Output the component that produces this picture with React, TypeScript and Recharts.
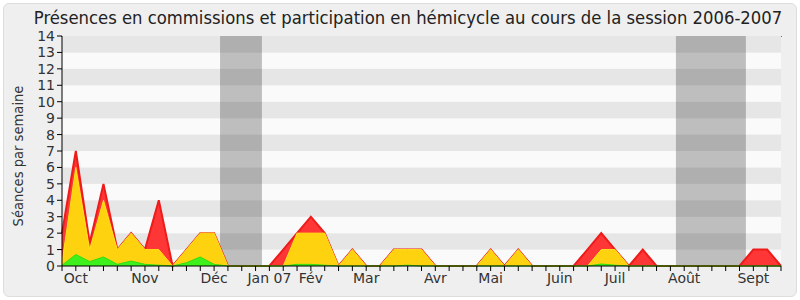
import React from 'react';
import { AreaChart, Area, XAxis, YAxis, CartesianGrid, ReferenceArea } from 'recharts';

const title = 'Présences en commissions et participation en hémicycle au cours de la session 2006-2007';
const yLabel = 'Séances par semaine';

// weekly values (index 0..52)
const totalSeries = [2, 7, 1.4, 5, 1, 2, 1, 4, 0, 1, 2, 2, 0, 0, 0, 0, 1, 2, 3, 2, 0, 1, 0, 0, 1, 1, 1, 0, 0, 0, 0, 1, 0, 1, 0, 0, 0, 0, 1, 2, 1, 0, 1, 0, 0, 0, 0, 0, 0, 0, 1, 1, 0];
const commissionSeries = [0.2, 6, 1, 4, 1, 2, 1, 1, 0, 1, 2, 2, 0, 0, 0, 0, 0, 2, 2, 2, 0, 1, 0, 0, 1, 1, 1, 0, 0, 0, 0, 1, 0, 1, 0, 0, 0, 0, 0, 1, 1, 0, 0, 0, 0, 0, 0, 0, 0, 0, 0, 0, 0];
const hemicycleSeries = [0.05, 0.7, 0.27, 0.55, 0.1, 0.3, 0.1, 0.05, 0, 0.2, 0.55, 0.1, 0, 0, 0, 0, 0, 0.1, 0.1, 0.05, 0, 0, 0, 0, 0, 0.05, 0, 0, 0, 0, 0, 0, 0, 0, 0, 0, 0, 0, 0, 0.12, 0.05, 0, 0, 0, 0, 0, 0, 0, 0, 0, 0, 0, 0];

const monthWeeks = [1, 6, 11, 15, 18, 22, 27, 31, 36, 40, 45, 50];
const monthNames = ['Oct', 'Nov', 'Déc', 'Jan 07', 'Fév', 'Mar', 'Avr', 'Mai', 'Juin', 'Juil', 'Août', 'Sept'];

const vacationStart = [11.43, 44.4];
const vacationEnd = [14.46, 49.46];

const yTicks = [0, 1, 2, 3, 4, 5, 6, 7, 8, 9, 10, 11, 12, 13, 14];

const data = totalSeries.map((t, i) => ({
  i,
  total: t,
  commission: commissionSeries[i],
  hemicycle: hemicycleSeries[i],
}));

const weekTicks = data.map((d) => d.i);

const labelFor = (v: number) => {
  const k = monthWeeks.indexOf(v);
  return k >= 0 ? monthNames[k] : '';
};

export default function App() {
  return (
    <div style={{ position: 'absolute', left: 0, top: 0, width: 800, height: 300, background: '#ffffff' }}>
      <div
        style={{
          position: 'absolute',
          left: 3,
          top: 3,
          width: 792,
          height: 292,
          background: '#efefef',
          border: '1px solid #dddddd',
          borderRadius: 6,
        }}
      />
      <div style={{ position: 'absolute', left: 0, top: 0 }}>
        <AreaChart
          width={800}
          height={300}
          data={data}
          margin={{ top: 36, right: 19, left: 0, bottom: 0 }}
        >
          {yTicks.slice(0, 14).map((k) => (
            <ReferenceArea
              key={'band' + k}
              x1={0}
              x2={52}
              y1={k}
              y2={k + 1}
              fill={k % 2 === 1 ? '#e6e6e6' : '#fafafa'}
              fillOpacity={1}
              stroke="none"
            />
          ))}
          {vacationStart.map((s, j) => (
            <ReferenceArea
              key={'vac' + j}
              x1={s}
              x2={vacationEnd[j]}
              y1={0}
              y2={14}
              fill="#000000"
              fillOpacity={0.24}
              stroke="none"
            />
          ))}
          <CartesianGrid horizontal={false} vertical={true} stroke="#000000" strokeDasharray="1 1000" />
          <XAxis
            dataKey="i"
            type="number"
            domain={[0, 52]}
            ticks={weekTicks}
            interval={0}
            tickFormatter={labelFor}
            height={34}
            tickSize={5}
            tickMargin={2}
            stroke="#000000"
            tick={{ fill: '#333333', fontSize: 14, fontFamily: 'DejaVu Sans' }}
          />
          <YAxis
            type="number"
            domain={[0, 14]}
            ticks={yTicks}
            interval={0}
            width={62}
            tickSize={5}
            tickMargin={2}
            stroke="#000000"
            tick={{ fill: '#333333', fontSize: 14, fontFamily: 'DejaVu Sans' }}
          />
          <Area
            type="linear"
            dataKey="total"
            stroke="#ee1b1b"
            strokeWidth={2}
            fill="#ff3636"
            fillOpacity={1}
            isAnimationActive={false}
            dot={false}
            activeDot={false}
          />
          <Area
            type="linear"
            dataKey="commission"
            stroke="#ffe21a"
            strokeWidth={1}
            fill="#ffd20f"
            fillOpacity={1}
            isAnimationActive={false}
            dot={false}
            activeDot={false}
          />
          <Area
            type="linear"
            dataKey="hemicycle"
            stroke="#33dd11"
            strokeWidth={1}
            fill="#3ef01c"
            fillOpacity={1}
            isAnimationActive={false}
            dot={false}
            activeDot={false}
          />
        </AreaChart>
      </div>
      <svg width={800} height={300} style={{ position: 'absolute', left: 0, top: 0, pointerEvents: 'none' }}>
        <text
          x={408}
          y={24}
          textAnchor="middle"
          fontSize={18.3}
          fill="#222222"
          fontFamily="'DejaVu Sans Condensed', 'DejaVu Sans'"
        >
          {title}
        </text>
        <text
          x={0}
          y={0}
          transform="translate(23,156) rotate(-90)"
          textAnchor="middle"
          fontSize={14.6}
          fill="#333333"
          fontFamily="'DejaVu Sans Condensed', 'DejaVu Sans'"
        >
          {yLabel}
        </text>
      </svg>
    </div>
  );
}
